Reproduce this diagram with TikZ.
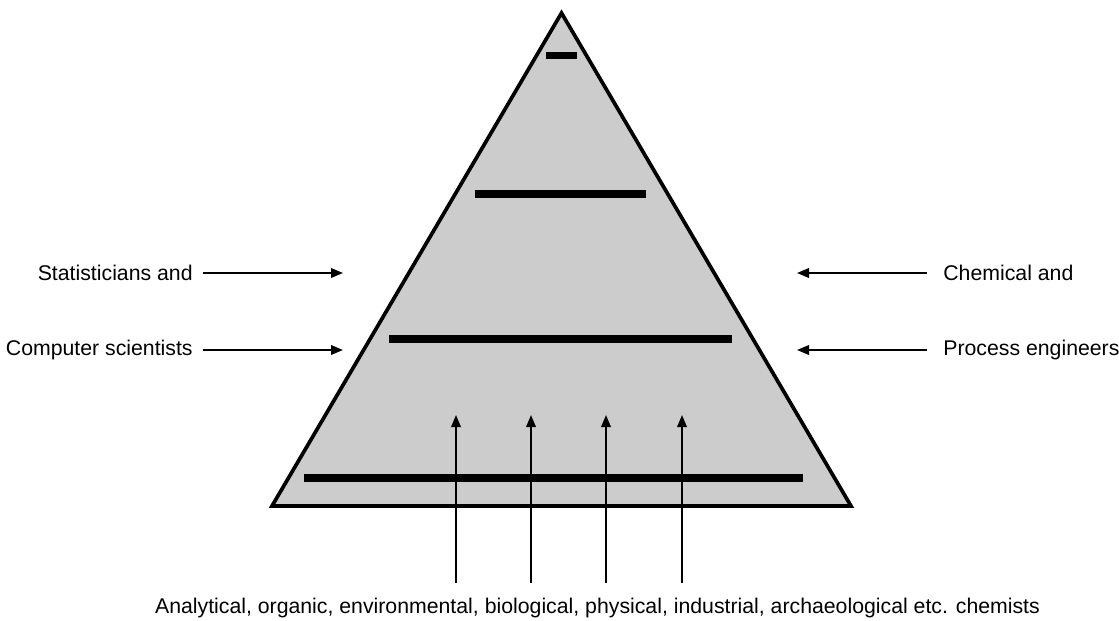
\documentclass[tikz,border=0pt]{standalone}
\usepackage{fontspec}
\setmainfont{Liberation Sans}
\usetikzlibrary{arrows.meta,positioning}

\begin{document}
\begin{tikzpicture}[
  lbl/.style={font=\fontsize{12.1}{14.5}\selectfont,inner sep=0pt},
  level/.style={line width=4pt},
  feed/.style={-{Triangle[length=0.24cm,width=0.19cm]},line width=1.1pt}
]
  \useasboundingbox (0,0) rectangle (22.38,12.4);
  % Pyramid
  \coordinate (apex) at (11.23,12.14);
  \coordinate (bl) at (5.44,2.28);
  \coordinate (br) at (17.02,2.28);
  \draw[fill=black!20,line width=2.1pt] (bl) -- (apex) -- (br) -- cycle;
  % Levels
  \coordinate (l1a) at (10.92,11.29); \coordinate (l1b) at (11.54,11.29);
  \coordinate (l2a) at (9.5,8.52);    \coordinate (l2b) at (12.92,8.52);
  \coordinate (l3a) at (7.78,5.62);   \coordinate (l3b) at (14.64,5.62);
  \coordinate (l4a) at (6.08,2.84);   \coordinate (l4b) at (16.06,2.84);
  \draw[level] (l1a) -- (l1b);
  \draw[level] (l2a) -- (l2b);
  \draw[level] (l3a) -- (l3b);
  \draw[level] (l4a) -- (l4b);
  % Left side
  \node[lbl,anchor=east] (stat) at (3.86,6.94) {Statisticians and};
  \node[lbl,anchor=east] (comp) at (3.86,5.40) {Computer scientists};
  \coordinate (statend) at (6.86,6.94);
  \coordinate (compend) at (6.86,5.40);
  \draw[feed] ([xshift=0.2cm]stat.east) -- (statend);
  \draw[feed] ([xshift=0.2cm]comp.east) -- (compend);
  % Right side
  \node[lbl,anchor=west] (chem) at (18.86,6.94) {Chemical and};
  \node[lbl,anchor=west] (proc) at (18.86,5.40) {Process engineers};
  \coordinate (chemend) at (15.94,6.94);
  \coordinate (procend) at (15.94,5.40);
  \draw[feed] ([xshift=-0.32cm]chem.west) -- (chemend);
  \draw[feed] ([xshift=-0.32cm]proc.west) -- (procend);
  % Bottom
  \node[lbl] (chemists) at (11.95,0.25) {Analytical, organic, environmental, biological, physical, industrial, archaeological etc. chemists};
  \foreach \x [count=\i] in {9.12,10.62,12.12,13.64} {
    \coordinate (up\i a) at (\x,0.74);
    \coordinate (up\i b) at (\x,4.1);
    \draw[feed] (up\i a) -- (up\i b);
  }
\end{tikzpicture}
\end{document}
